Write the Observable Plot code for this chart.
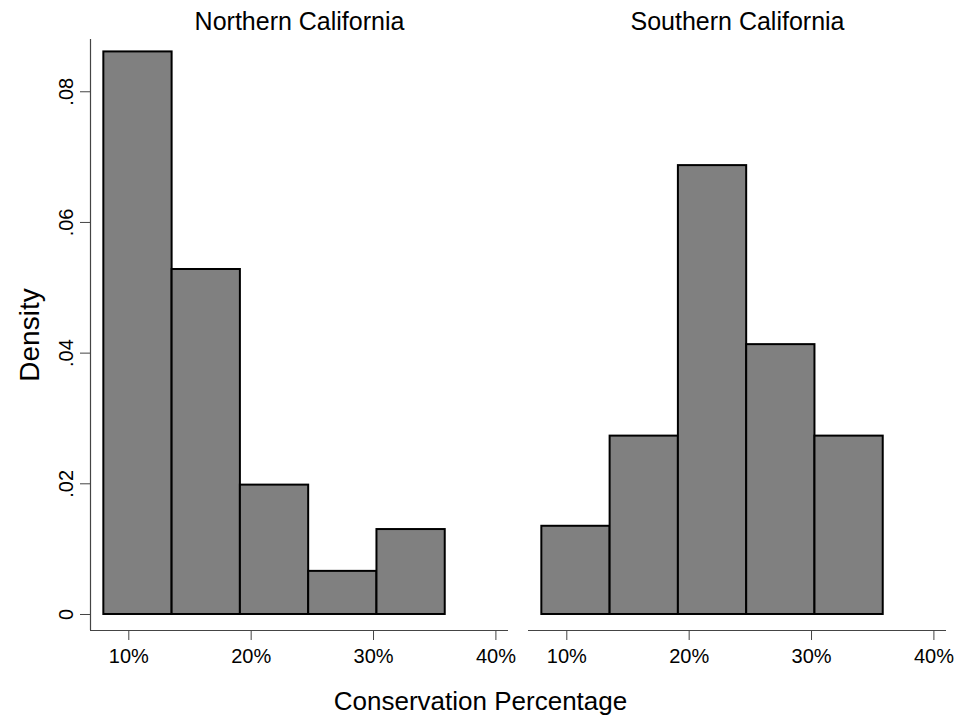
<!DOCTYPE html>
<html><head><meta charset="utf-8">
<script src="https://cdn.jsdelivr.net/npm/d3@7"></script>
<script src="https://cdn.jsdelivr.net/npm/@observablehq/plot@0.6"></script>
<style>body{margin:0;background:#fff;}</style>
</head><body><div id="chart"></div>
<script>
// Data
const regions = ["Northern California", "Southern California"];
const binStart = [7.96, 13.54, 19.12, 24.70, 30.28];
const binEnd = [13.54, 19.12, 24.70, 30.28, 35.86];
const northDensity = [0.0861, 0.0528, 0.0198, 0.0066, 0.0130];
const southDensity = [0.0135, 0.0273, 0.0687, 0.0413, 0.0273];
const xTicks = [10, 20, 30, 40];
const yTicks = [0, 0.02, 0.04, 0.06, 0.08];
const xTitle = "Conservation Percentage";
const yTitle = "Density";

const bars = [];
[northDensity, southDensity].forEach((series, r) => {
  series.forEach((d, i) => bars.push({region: regions[r], x1: binStart[i], x2: binEnd[i], density: d}));
});

const font = "'Liberation Sans', Arial, Helvetica, sans-serif";
const xDomain = [6.87, 41.03];
const yDomain = [-0.00245, 0.088];
const axisColor = "#444";

const chart = Plot.plot({
  width: 959, height: 719,
  marginLeft: 90, marginRight: 12, marginTop: 39, marginBottom: 89,
  style: {fontFamily: font, fontSize: "20px", color: "black", background: "white"},
  fx: {domain: regions, padding: 0.0456},
  x: {domain: xDomain},
  y: {domain: yDomain},
  marks: [
    Plot.rect(bars, {fx: "region", x1: "x1", x2: "x2", y1: 0, y2: "density", fill: "#808080", stroke: "black", strokeWidth: 2}),
    Plot.ruleY([yDomain[0]], {stroke: axisColor, strokeWidth: 1.2}),
    Plot.ruleX([xDomain[0]], {fx: [regions[0]], stroke: axisColor, strokeWidth: 1.2}),
    Plot.axisY({ticks: yTicks, anchor: "left", tickSize: 10, tickRotate: -90, tickPadding: 8,
      tickFormat: d => d === 0 ? "0" : d3.format(".2f")(d).slice(1), stroke: axisColor, fontSize: 20, label: null}),
    Plot.axisX({ticks: xTicks, anchor: "bottom", tickSize: 10, tickPadding: 8, tickFormat: d => d + "%", stroke: axisColor, fontSize: 20, label: null}),
    Plot.axisFx({anchor: "top", tickSize: 0, tickPadding: 10, fontSize: 25, label: null}),
    Plot.text([yTitle], {fx: [regions[0]], frameAnchor: "left", textAnchor: "middle", rotate: -90, dx: -52, lineAnchor: "bottom", fontSize: 28}),
    Plot.text([xTitle], {fx: [regions[0]], frameAnchor: "bottom", textAnchor: "middle", dx: 181, dy: 79, lineAnchor: "bottom", fontSize: 26})
  ]
});
document.getElementById("chart").appendChild(chart);
</script>
</body></html>
